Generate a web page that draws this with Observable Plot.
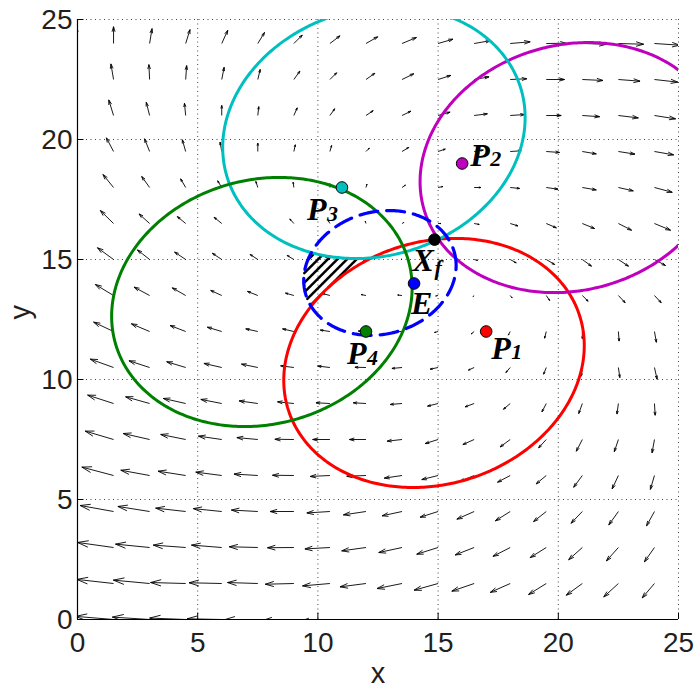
<!DOCTYPE html>
<html><head><meta charset="utf-8">
<script src="https://cdn.jsdelivr.net/npm/d3@7"></script>
<script src="https://cdn.jsdelivr.net/npm/@observablehq/plot@0.6"></script>
<style>html,body{margin:0;padding:0;background:#fff}#chart svg{display:block}</style>
</head><body><div id="chart"></div>
<script>
// ---- data ----
const gridX = [0,1.5,3,4.5,6,7.5,9,10.5,12,13.5,15,16.5,18,19.5,21,22.5,24];
const gridY = [0,1.5,3,4.5,6,7.5,9,10.5,12,13.5,15,16.5,18,19.5,21,22.5,24];
// quiver components (rows: y = 0 .. 24, cols: x = 0 .. 24)
const U = [
 [-1.62,-1.58,-1.55,-1.5,-1.44,-1.36,-1.3,-1.24,-1.18,-1.12,-1.08,-1.04,-1.0,-0.92,-0.84,-0.74,-0.64],
 [-1.58,-1.53,-1.51,-1.46,-1.36,-1.26,-1.19,-1.14,-1.08,-1.04,-1.0,-0.93,-0.83,-0.74,-0.67,-0.61,-0.51],
 [-1.55,-1.5,-1.42,-1.35,-1.26,-1.19,-1.1,-1.04,-1.01,-0.97,-0.89,-0.79,-0.72,-0.67,-0.57,-0.5,-0.42],
 [-1.45,-1.39,-1.32,-1.25,-1.18,-1.1,-0.99,-0.96,-0.94,-0.83,-0.75,-0.72,-0.62,-0.53,-0.47,-0.4,-0.33],
 [-1.4,-1.32,-1.2,-1.15,-1.08,-0.99,-0.89,-0.82,-0.8,-0.74,-0.68,-0.6,-0.53,-0.42,-0.36,-0.26,-0.17],
 [-1.25,-1.18,-1.1,-1.04,-0.97,-0.87,-0.79,-0.72,-0.69,-0.62,-0.54,-0.47,-0.42,-0.32,-0.25,-0.17,-0.1],
 [-1.15,-1.08,-1.0,-0.93,-0.87,-0.78,-0.68,-0.58,-0.53,-0.49,-0.44,-0.38,-0.28,-0.18,-0.15,-0.06,0.03],
 [-1.05,-0.97,-0.86,-0.79,-0.74,-0.68,-0.55,-0.51,-0.46,-0.42,-0.33,-0.24,-0.18,-0.11,-0.04,0.06,0.11],
 [-0.92,-0.83,-0.76,-0.65,-0.6,-0.5,-0.47,-0.4,-0.32,-0.25,-0.15,-0.12,-0.08,-0.07,0,0.03,0.08],
 [-0.86,-0.76,-0.65,-0.56,-0.46,-0.43,-0.35,-0.3,-0.2,-0.18,-0.1,-0.05,0.08,0.14,0.24,0.28,0.28],
 [-0.76,-0.67,-0.51,-0.46,-0.39,-0.32,-0.28,-0.18,-0.1,-0.04,0.05,0.14,0.25,0.35,0.38,0.42,0.46],
 [-0.64,-0.55,-0.44,-0.35,-0.32,-0.22,-0.17,-0.07,-0.03,0.07,0.12,0.21,0.32,0.42,0.51,0.55,0.67],
 [-0.52,-0.44,-0.33,-0.21,-0.17,-0.08,-0.03,0,0.04,0.14,0.2,0.28,0.39,0.49,0.58,0.62,0.74],
 [-0.38,-0.3,-0.21,-0.14,-0.07,0,0.06,0.07,0.14,0.28,0.3,0.38,0.46,0.55,0.58,0.69,0.8],
 [-0.28,-0.2,-0.14,-0.05,0,0.04,0.14,0.2,0.3,0.37,0.5,0.55,0.6,0.62,0.72,0.83,0.88],
 [-0.18,-0.11,-0.03,0.04,0.1,0.1,0.25,0.28,0.37,0.49,0.53,0.62,0.69,0.76,0.86,0.9,0.97],
 [-0.05,0,0.1,0.18,0.25,0.28,0.35,0.42,0.49,0.6,0.62,0.69,0.83,0.83,1.0,1.05,1.05]
];
const V = [
 [0.16,0.13,0.1,0.06,0.03,0,-0.04,-0.08,-0.14,-0.2,-0.26,-0.32,-0.38,-0.45,-0.52,-0.58,-0.64],
 [0.2,0.17,0.14,0.04,0.03,0.04,-0.03,-0.1,-0.14,-0.21,-0.28,-0.32,-0.37,-0.46,-0.49,-0.56,-0.6],
 [0.24,0.21,0.14,0.1,0.1,0.03,-0.01,-0.06,-0.14,-0.21,-0.28,-0.31,-0.37,-0.42,-0.51,-0.56,-0.6],
 [0.28,0.25,0.21,0.14,0.12,0.06,0,-0.06,-0.14,-0.18,-0.24,-0.32,-0.39,-0.42,-0.49,-0.56,-0.6],
 [0.36,0.35,0.22,0.18,0.14,0.06,0.01,-0.04,-0.03,-0.11,-0.17,-0.25,-0.28,-0.35,-0.49,-0.56,-0.58],
 [0.38,0.35,0.25,0.21,0.14,0.08,0.01,0,0,-0.07,-0.17,-0.21,-0.31,-0.35,-0.49,-0.51,-0.56],
 [0.38,0.35,0.28,0.21,0.17,0.11,0.07,0.03,0.03,-0.04,-0.11,-0.14,-0.24,-0.35,-0.42,-0.44,-0.49],
 [0.38,0.35,0.28,0.24,0.17,0.14,0.07,0.06,0.01,-0.04,-0.07,-0.11,-0.21,-0.28,-0.36,-0.42,-0.49],
 [0.42,0.39,0.32,0.25,0.18,0.11,0.11,0.06,0.02,-0.01,-0.04,-0.1,-0.15,-0.28,-0.3,-0.4,-0.45],
 [0.47,0.46,0.35,0.32,0.21,0.17,0.1,0.08,0.04,0.02,-0.02,-0.05,-0.1,-0.21,-0.24,-0.3,-0.3],
 [0.5,0.49,0.4,0.31,0.26,0.21,0.17,0.1,0.05,0.02,-0.02,-0.04,-0.14,-0.21,-0.28,-0.28,-0.25],
 [0.56,0.54,0.4,0.29,0.26,0.19,0.19,0.12,0.1,0.04,0,-0.04,-0.1,-0.18,-0.21,-0.28,-0.28],
 [0.56,0.54,0.46,0.36,0.28,0.25,0.22,0.16,0.14,0.1,0.04,0,-0.04,-0.07,-0.1,-0.14,-0.2],
 [0.6,0.57,0.53,0.49,0.39,0.35,0.28,0.25,0.14,0.17,0.1,0.06,0.03,-0.04,-0.1,-0.11,-0.14],
 [0.66,0.65,0.55,0.51,0.42,0.37,0.32,0.28,0.2,0.18,0.14,0.07,0.04,0,-0.05,-0.1,-0.14],
 [0.68,0.65,0.62,0.58,0.51,0.42,0.35,0.28,0.26,0.24,0.17,0.11,0.03,0,-0.04,-0.07,-0.11],
 [0.7,0.7,0.62,0.58,0.55,0.46,0.35,0.32,0.28,0.25,0.18,0.12,0.07,0.01,-0.03,-0.03,-0.07]
];
const ticks = [0,5,10,15,20,25];
const gridLines = [5,10,15,20,25];
// ellipses: P1 (red), P2 (magenta), P3 (cyan), P4 (green), E (blue dashed)
const ellipseNames = ["P1","P2","P3","P4","E"];
const ellipseCX = [14.83, 20.54, 12.33, 7.67, 12.58];
const ellipseCY = [10.69, 18.83, 20.29, 13.23, 14.44];
const ellipseRX = [6.25, 6.29, 6.29, 6.25, 3.17];
const ellipseRY = [5.19, 5.21, 5.25, 5.19, 2.6];
const ellipseTilt = [0.14, 0.113, 0.119, 0.115, 0.12];
// points
const pointNames = ["P1","P2","P3","P4","E","Xf"];
const pointX = [17, 16, 11, 12, 14, 14.85];
const pointY = [12, 19, 18, 12, 14, 15.83];
const pointMain = ["P","P","P","P","E","X"];
const pointSub = ["1","2","3","4","","f"];

// ---- styles ----
const colors = {P1:"#ff0000", P2:"#bf00bf", P3:"#00bfbf", P4:"#008000", E:"#0000ff", Xf:"#000000"};
const labelOffset = { // pixel offsets: [mainDx, mainDy, subDx, subDy]
  P1:[5,27,25,27], P2:[8,2,28,2], P3:[-35,32,-15,33], P4:[-19,32,1,33], E:[-3,30,0,30], Xf:[-22,31,0,35]
};

// ---- derived geometry ----
const ellipses = ellipseNames.map((name,i)=>({name,cx:ellipseCX[i],cy:ellipseCY[i],rx:ellipseRX[i],ry:ellipseRY[i],tilt:ellipseTilt[i]}));
function outline(e){
  const pts=[];
  for(let k=0;k<=360;k++){const t=k/360*2*Math.PI;pts.push({x:e.cx+e.rx*Math.cos(t),y:e.cy+e.ry*Math.sin(t+e.tilt)});}
  return pts;
}
function inside(e,x,y){
  const p=(x-e.cx)/e.rx, q=(y-e.cy)/e.ry;
  const s=(q-p*Math.sin(e.tilt))/Math.cos(e.tilt);
  return p*p+s*s<=1;
}
const byName = Object.fromEntries(ellipses.map(e=>[e.name,e]));
// hatched region: inside E, outside P1 and P3
const hatch=[]; let seg=0;
for(let c=3.0;c<=6.0;c+=0.4){
  let on=false;
  for(let x=8;x<=14;x+=0.005){
    const y=x+c;
    const ok=inside(byName.E,x,y)&&!inside(byName.P1,x,y)&&!inside(byName.P3,x,y);
    if(ok){ if(!on){seg++;on=true;} hatch.push({x,y,seg}); } else on=false;
  }
}
// quiver
const shafts=[], heads=[];
gridY.forEach((gy,r)=>gridX.forEach((gx,c)=>{
  const u=U[r][c], v=V[r][c];
  const tx=gx+u, ty=gy+v, a=0.3, b=0.3;
  shafts.push({x1:gx,y1:gy,x2:tx,y2:ty});
  heads.push({x1:tx-a*(u+b*v),y1:ty-a*(v-b*u),x2:tx,y2:ty});
  heads.push({x1:tx-a*(u-b*v),y1:ty-a*(v+b*u),x2:tx,y2:ty});
}));
const points = pointNames.map((n,i)=>({name:n,x:pointX[i],y:pointY[i],main:pointMain[i],sub:pointSub[i]}));

const serif = "'Liberation Serif','Times New Roman',serif";
const ellipseMarks = ["P1","P2","P3","P4"].map(n=>Plot.line(outline(byName[n]),{x:"x",y:"y",stroke:colors[n],strokeWidth:3,clip:true}));
const labelMarks = points.flatMap(p=>{
  const o=labelOffset[p.name];
  const common={x:"x",y:"y",textAnchor:"start",lineAnchor:"bottom",fontWeight:"bold",fontStyle:"italic",fontFamily:serif,fill:"#000"};
  const ms=[Plot.text([p],{...common,text:"main",dx:o[0],dy:o[1],fontSize:32})];
  if(p.sub) ms.push(Plot.text([p],{...common,text:"sub",dx:o[2],dy:o[3],fontSize:22}));
  return ms;
});

const chart = Plot.plot({
  width:694, height:687,
  marginLeft:77, marginRight:16, marginTop:19, marginBottom:68,
  x:{domain:[0,25], axis:null},
  y:{domain:[0,25], axis:null},
  style:{fontFamily:"'Liberation Sans',Arial,sans-serif", background:"#fff", overflow:"visible"},
  marks:[
    Plot.ruleX(gridLines,{stroke:"#444",strokeWidth:1,strokeDasharray:"1,3.5"}),
    Plot.ruleY(gridLines,{stroke:"#444",strokeWidth:1,strokeDasharray:"1,3.5"}),
    Plot.link(shafts,{x1:"x1",y1:"y1",x2:"x2",y2:"y2",stroke:"#000",strokeWidth:0.9,clip:true}),
    Plot.link(heads,{x1:"x1",y1:"y1",x2:"x2",y2:"y2",stroke:"#000",strokeWidth:0.9,clip:true}),
    Plot.line(hatch,{x:"x",y:"y",z:"seg",stroke:"#000",strokeWidth:2.5}),
    ...ellipseMarks,
    Plot.line(outline(byName.E),{x:"x",y:"y",stroke:colors.E,strokeWidth:3.2,strokeDasharray:"18,9"}),
    Plot.ruleX([0],{stroke:"#000",strokeWidth:1.2}),
    Plot.ruleY([0],{stroke:"#000",strokeWidth:1.2}),
    Plot.ruleX(ticks,{y1:0,y2:0.27,stroke:"#000",strokeWidth:1}),
    Plot.ruleY(ticks,{x1:0,x2:0.27,stroke:"#000",strokeWidth:1}),
    Plot.text(ticks,{x:d=>d,y:0,text:d=>String(d),dy:24,lineAnchor:"middle",textAnchor:"middle",fontSize:28,fill:"#231f20"}),
    Plot.text(ticks,{x:0,y:d=>d,text:d=>String(d),dx:-5,dy:1,lineAnchor:"middle",textAnchor:"end",fontSize:28,fill:"#231f20"}),
    Plot.text(["x"],{frameAnchor:"bottom",text:d=>d,dy:63,lineAnchor:"bottom",fontSize:29,fill:"#231f20"}),
    Plot.text(["y"],{frameAnchor:"left",text:d=>d,dx:-57,rotate:-90,lineAnchor:"middle",fontSize:29,fill:"#231f20"}),
    Plot.dot(points,{x:"x",y:"y",r:5.8,fill:d=>colors[d.name],stroke:"#000",strokeWidth:1}),
    ...labelMarks
  ]
});
document.getElementById("chart").appendChild(chart);
</script>
</body></html>
